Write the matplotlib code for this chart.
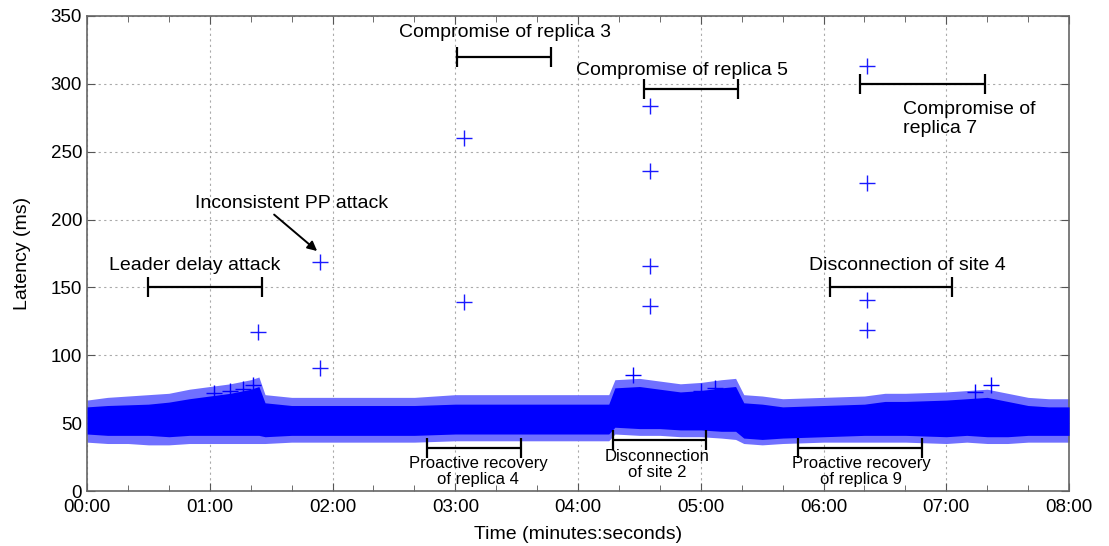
import numpy as np
import matplotlib
matplotlib.use("Agg")
import matplotlib.pyplot as plt
from matplotlib.ticker import MultipleLocator, FuncFormatter

plt.rcParams['font.family'] = ['Liberation Sans', 'DejaVu Sans']

# latency band (envelope of the dense cloud of samples)
band_t = [0, 10, 20, 30, 40, 50, 60, 70, 80, 84, 87, 100, 120, 140, 160, 180,
          200, 220, 240, 255, 258, 270, 280, 290, 300, 310, 317, 321, 330, 340,
          360, 380, 390, 400, 420, 430, 440, 450, 460, 470, 480]
core_hi = [62, 63, 63.5, 64, 65.5, 68, 70, 72, 75, 77, 65, 63, 63, 63, 63, 64,
           64, 64, 64, 64, 76, 77, 75, 73, 74, 76, 77, 65, 64, 62,
           63, 64, 66, 66, 67, 68, 69, 66, 63, 62, 62]
core_lo = [42, 41, 41, 41, 40, 41, 41, 41, 41, 41, 40, 41, 41, 41, 41, 42,
           42, 42, 42, 42, 47, 46, 46, 45, 45, 44, 44, 39, 38, 39,
           40, 41, 41, 41, 40, 41, 40, 40, 41, 41, 41]
spike_hi = [67, 69, 70, 71, 72, 75, 77, 79, 82, 84, 71, 69, 69, 69, 69, 71,
            71, 71, 71, 71, 82, 83, 81, 79, 80, 82, 83, 71, 70, 68,
            69, 70, 72, 72, 73, 74, 75, 72, 69, 68, 68]
spike_lo = [36, 35, 35, 34, 34, 35, 35, 35, 35, 35, 35, 36, 36, 36, 36, 37,
            37, 37, 37, 37, 42, 41, 41, 40, 40, 39, 38, 35, 34, 35,
            36, 36, 36, 36, 35, 36, 35, 35, 36, 36, 36]

# individual samples standing out of the band
stray_t = [62, 70, 76, 81, 267, 300, 307, 434, 442]
stray_y = [72, 74, 75, 78, 85.5, 74, 76, 73, 78]

# isolated latency spikes
out_t = [83.6, 113.9, 113.9, 184.3, 184.3, 275.2, 275.2, 275.2, 275.2,
         381.2, 381.2, 381.2, 381.2]
out_y = [117, 169, 91, 260, 139, 284, 236, 166, 136, 313, 227, 141, 119]

# event intervals: (start, end, y)
events_top = [
    (30, 85.5, 150),     # leader delay
    (181, 227, 320),     # compromise 3
    (272, 318, 296),     # compromise 5
    (378, 439, 300),     # compromise 7
    (363, 423, 150),     # disconnection site 4
]
events_bottom = [
    (166, 212, 32),      # proactive recovery 4
    (257, 302.5, 37.5),  # disconnection site 2
    (347.5, 408, 32),    # proactive recovery 9
]

fig = plt.figure(figsize=(11.09, 5.46), dpi=100)
ax = fig.add_axes([0.0785, 0.1007, 0.8855, 0.87])

ax.fill_between(band_t, spike_lo, spike_hi, color='#7070ff', lw=0, zorder=2)
ax.fill_between(band_t, core_lo, core_hi, color='#0000ff', lw=0, zorder=3)
ax.plot(stray_t, stray_y, '+', color='#0000ff', ms=12, mew=1.0, zorder=4)
ax.plot(out_t, out_y, '+', color='#1a1aff', ms=12, mew=1.0, zorder=4)

for s, e, y in events_top + events_bottom:
    ax.errorbar([(s + e) / 2], [y], xerr=[[(e - s) / 2], [(e - s) / 2]],
                fmt='none', ecolor='black', elinewidth=1.6, capsize=7,
                capthick=1.6, zorder=5)

fs = 14
ax.text(52.8, 166.5, "Leader delay attack", fontsize=fs, ha='center', va='center')
ax.text(100.2, 211.5, "Inconsistent PP attack", fontsize=fs, ha='center', va='center')
ax.annotate("", xy=(113.5, 175.5), xytext=(90.4, 205),
            arrowprops=dict(arrowstyle='-|>', color='black', lw=1.4,
                            mutation_scale=14))
ax.text(204.3, 337.5, "Compromise of replica 3", fontsize=fs, ha='center', va='center')
ax.text(291, 310, "Compromise of replica 5", fontsize=fs, ha='center', va='center')
ax.text(398.8, 274, "Compromise of\nreplica 7", fontsize=fs, ha='left', va='center',
        linespacing=1.2)
ax.text(401, 165.8, "Disconnection of site 4", fontsize=fs, ha='center', va='center')

fs2 = 12
ax.text(191.1, 14.4, "Proactive recovery\nof replica 4", fontsize=fs2, ha='center',
        va='center', linespacing=1.05)
ax.text(278.6, 19.5, "Disconnection\nof site 2", fontsize=fs2, ha='center',
        va='center', linespacing=1.05)
ax.text(378.3, 14.4, "Proactive recovery\nof replica 9", fontsize=fs2, ha='center',
        va='center', linespacing=1.05)

ax.set_xlim(0, 480)
ax.set_ylim(0, 350)
ax.xaxis.set_major_locator(MultipleLocator(60))
ax.xaxis.set_minor_locator(MultipleLocator(20))
ax.yaxis.set_major_locator(MultipleLocator(50))
ax.xaxis.set_major_formatter(FuncFormatter(lambda v, p: f"{int(v // 60):02d}:{int(v % 60):02d}"))
ax.tick_params(which='both', direction='in', top=True, right=True,
               labelsize=13.5, color='#555555')
ax.tick_params(which='major', length=6)
ax.tick_params(which='minor', length=4)
ax.tick_params(axis='x', pad=6)
ax.grid(True, which='major', linestyle=(0, (2, 3)), color='#aaaaaa', lw=0.8)
ax.set_axisbelow(True)
for sp in ax.spines.values():
    sp.set_color('#666666')
    sp.set_linewidth(1.2)

ax.set_xlabel("Time (minutes:seconds)", fontsize=14, labelpad=7)
ax.set_ylabel("Latency (ms)", fontsize=14, labelpad=14)

fig.savefig("out.png", dpi=100)
